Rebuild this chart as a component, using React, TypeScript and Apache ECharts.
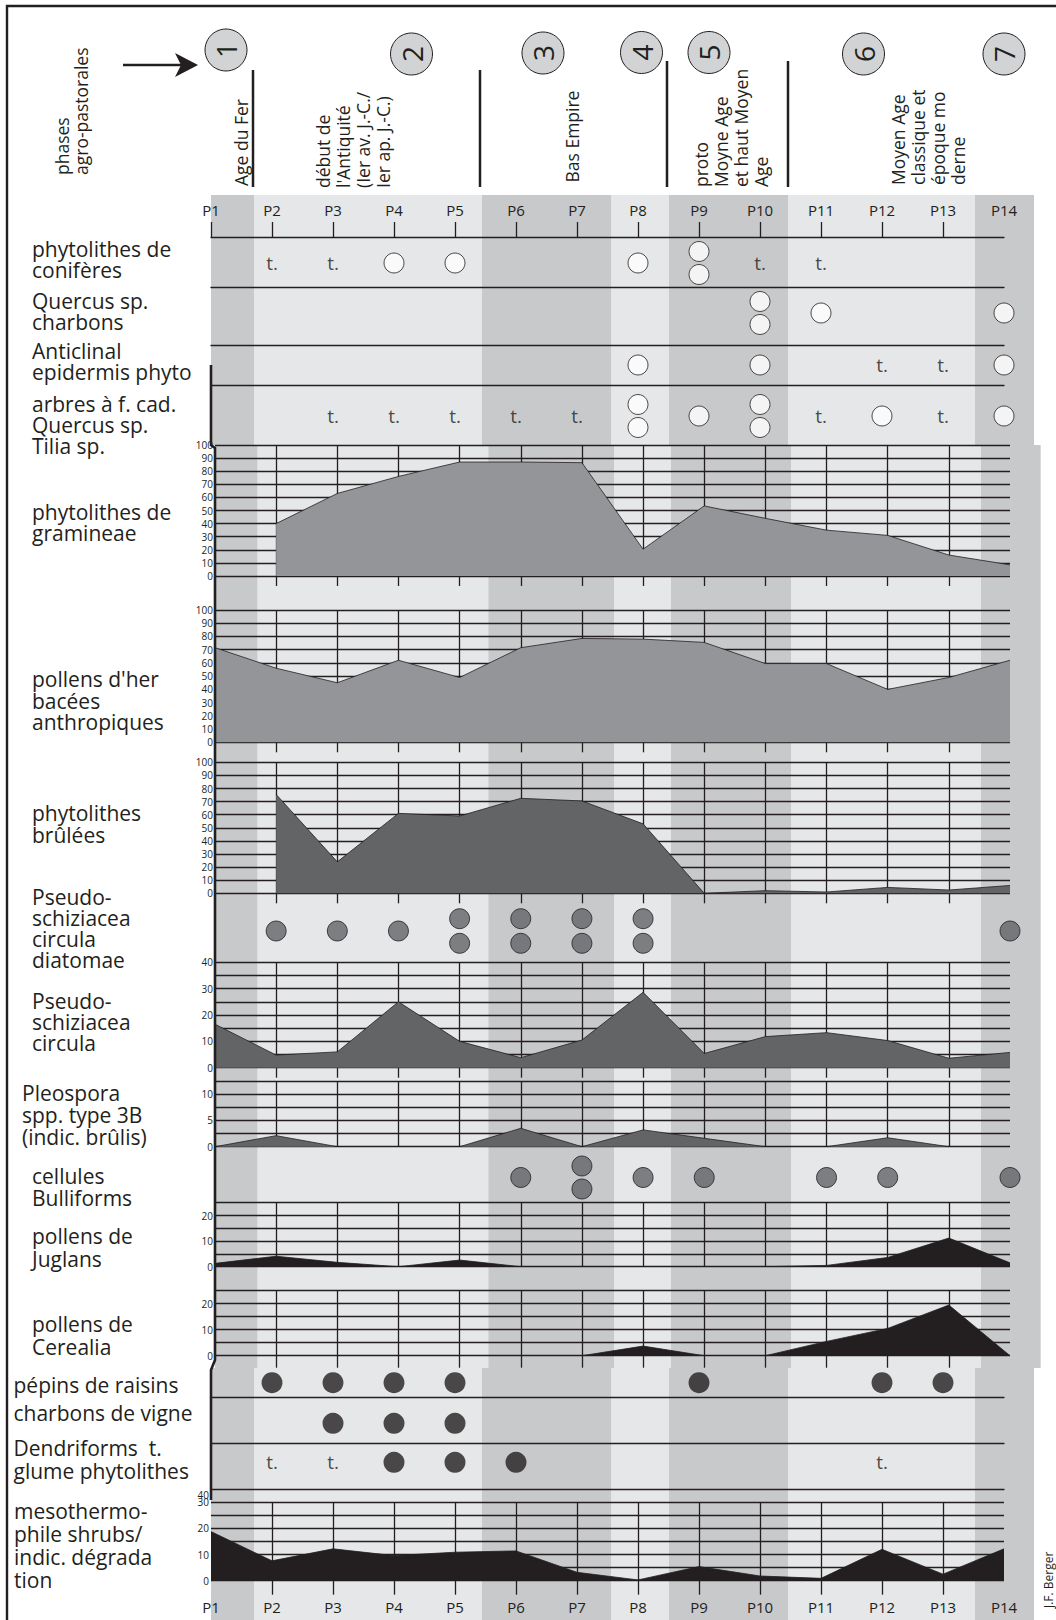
import React, { useEffect, useRef } from "react";
import * as echarts from "echarts";

const FONT = '"Open Sans", "Noto Sans", sans-serif';
const INK = "#231f20";
const BAND_DARK = "#c8c9cb";
const BAND_LIGHT = "#e6e7e8";
const AREA_GREY = "#939598";
const AREA_DARK = "#636466";
const AREA_BLACK = "#231f20";
const PHASE_FILL = "#d1d3d4";

const periods = ["P1", "P2", "P3", "P4", "P5", "P6", "P7", "P8", "P9", "P10", "P11", "P12", "P13", "P14"];

// presence rows: 0 = absent, 1 = one circle, 2 = two circles, "t" = traces
const coniferes = [0, "t", "t", 1, 1, 0, 0, 1, 2, "t", "t", 0, 0, 0];
const quercusCharbons = [0, 0, 0, 0, 0, 0, 0, 0, 0, 2, 1, 0, 0, 1];
const anticlinal = [0, 0, 0, 0, 0, 0, 0, 1, 0, 1, 0, "t", "t", 1];
const arbresCaducs = [0, 0, "t", "t", "t", "t", "t", 2, 1, 2, "t", 1, "t", 1];
const diatomae = [0, 1, 1, 1, 2, 2, 2, 2, 0, 0, 0, 0, 0, 1];
const bulliforms = [0, 0, 0, 0, 0, 1, 2, 1, 1, 0, 1, 1, 0, 1];
const pepinsRaisins = [0, 1, 1, 1, 1, 0, 0, 0, 1, 0, 0, 1, 1, 0];
const charbonsVigne = [0, 0, 1, 1, 1, 0, 0, 0, 0, 0, 0, 0, 0, 0];
const dendriforms = [0, "t", "t", 1, 1, 1, 0, 0, 0, 0, 0, "t", 0, 0];

// curves
const gramineae = [null, 40, 63, 76, 87, 87, 86.5, 20.5, 53.5, 44, 35, 31, 16, 8.5];
const pollensAnthropiques = [71.5, 56, 45, 62, 49, 71.5, 78.5, 78, 75.5, 59.5, 59.5, 40, 49, 62];
const phytolithesBrulees = [null, 75.5, 24, 61, 59, 72.5, 70.5, 53, 0, 2, 1, 4.5, 2.5, 6];
const pseudoschizaea = [16.5, 4.8, 6, 25, 10, 3.8, 10.5, 28.6, 5.4, 11.8, 13.3, 10.3, 3.6, 5.8];
const pleospora = [0, 2.1, 0, 0, 0, 3.5, 0, 3.2, 1.6, 0, 0, 1.7, 0, 0];
const juglans = [1.3, 4.1, 1.7, 0, 2.6, 0, 0, 0, 0, 0, 0.5, 3.6, 11.2, 1.5];
const cerealia = [null, null, null, null, null, null, 0, 3.7, 0, 0, 5.5, 10.5, 19.5, 0];
const mesothermophiles = [18.8, 7.6, 12.2, 9.6, 10.9, 11.4, 3.2, 0.3, 5.4, 1.8, 0.9, 12, 2.5, 12.2];

// phases
const phaseNumbers = ["1", "2", "3", "4", "5", "6", "7"];
const phaseNames = [
  "Age du Fer",
  "début de\nl'Antiquité\n(Ier av. J.-C./\nIer ap. J.-C.)",
  "Bas Empire",
  "proto\nMoyne Age\net haut Moyen\nAge",
  "Moyen Age\nclassique et\népoque mo\nderne",
];

const rowLabels = [
  "phytolithes de\nconifères",
  "Quercus sp.\ncharbons",
  "Anticlinal\nepidermis phyto",
  "arbres à f. cad.\nQuercus sp.\nTilia sp.",
  "phytolithes de\ngramineae",
  "pollens d'her\nbacées\nanthropiques",
  "phytolithes\nbrûlées",
  "Pseudo-\nschiziacea\ncircula\ndiatomae",
  "Pseudo-\nschiziacea\ncircula",
  "Pleospora\nspp. type 3B\n(indic. brûlis)",
  "cellules\nBulliforms",
  "pollens de\nJuglans",
  "pollens de\nCerealia",
  "pépins de raisins",
  "charbons de vigne",
  "Dendriforms  t.\nglume phytolithes",
  "mesothermo-\nphile shrubs/\nindic. dégrada\ntion",
];

// layout of the sections (the middle block of the figure is slightly shifted)
const OUTER = { left: 211, width: 793 };
const MIDDLE = { left: 215, width: 795 };

function buildOption() {
  const grid: any[] = [];
  const xAxis: any[] = [];
  const yAxis: any[] = [];
  const series: any[] = [];
  const graphic: any[] = [];
  const last = periods.length - 1;
  const inner = (i: number) => i > 0 && i < last;

  const addGrid = (sec: any, top: number, bottom: number) => {
    grid.push({ left: sec.left, width: sec.width, top, height: bottom - top });
    return grid.length - 1;
  };

  // header axis with period labels
  {
    const g = addGrid(OUTER, 237, 287);
    xAxis.push({
      type: "category", gridIndex: g, position: "top", data: periods, boundaryGap: false,
      axisLine: { show: true, onZero: false, lineStyle: { color: INK, width: 1.3 } },
      axisTick: { show: true, length: 15, interval: (i: number) => i < last, lineStyle: { color: INK, width: 1.3 } },
      axisLabel: { show: true, interval: 0, margin: 20, fontSize: 15, color: INK, fontFamily: FONT },
      splitLine: { show: false },
    });
    yAxis.push({ type: "value", gridIndex: g, min: 0, max: 1, show: false });
    series.push({ type: "scatter", xAxisIndex: xAxis.length - 1, yAxisIndex: yAxis.length - 1, data: [] });
  }

  const addDotRow = (sec: any, top: number, bottom: number, values: any[], kind: string, divider: boolean, off: number) => {
    const g = addGrid(sec, top, bottom);
    xAxis.push({
      type: "category", gridIndex: g, data: periods, boundaryGap: false,
      axisLine: { show: divider, onZero: false, lineStyle: { color: INK, width: 1.3 } },
      axisTick: { show: false }, axisLabel: { show: false }, splitLine: { show: false },
    });
    yAxis.push({ type: "value", gridIndex: g, min: 0, max: 1, show: false });
    const xi = xAxis.length - 1;
    const yi = yAxis.length - 1;
    const single: any[] = [];
    const pair: any[] = [];
    const trace: any[] = [];
    values.forEach((v, i) => {
      if (v === 1) single.push([i, 0.5]);
      else if (v === 2) pair.push([i, 0.5]);
      else if (v === "t") trace.push([i, 0.5]);
    });
    const itemStyle =
      kind === "white"
        ? { color: "#ffffff", borderColor: INK, borderWidth: 1 }
        : kind === "grey"
        ? { color: AREA_DARK, borderColor: INK, borderWidth: 1 }
        : { color: INK };
    const base = { type: "scatter", xAxisIndex: xi, yAxisIndex: yi, symbol: "circle", symbolSize: kind === "black" ? 21 : 20, itemStyle, silent: true, z: 3 };
    series.push({ ...base, data: single });
    series.push({ ...base, data: pair, symbolOffset: [0, -off] });
    series.push({ ...base, data: pair, symbolOffset: [0, off] });
    series.push({
      type: "scatter", xAxisIndex: xi, yAxisIndex: yi, symbol: "circle", symbolSize: 1, silent: true, z: 3,
      itemStyle: { color: "rgba(0,0,0,0)" }, data: trace,
      label: { show: true, position: "inside", formatter: "t.", fontSize: 19, color: INK, fontFamily: FONT },
    });
  };

  const addAreaChart = (
    sec: any, top: number, bottom: number, values: any[], max: number, step: number,
    labelEvery: number, fill: string, tickLen: number, showPeriods = false
  ) => {
    const g = addGrid(sec, top, bottom);
    xAxis.push({
      type: "category", gridIndex: g, data: periods, boundaryGap: false, position: "bottom",
      axisLine: { show: false },
      axisTick: { show: tickLen > 0, length: tickLen, interval: inner, lineStyle: { color: INK, width: 1.3 } },
      axisLabel: showPeriods
        ? { show: true, interval: 0, margin: 19, fontSize: 15, color: INK, fontFamily: FONT }
        : { show: false },
      splitLine: { show: true, interval: inner, lineStyle: { color: INK, width: 1.3 } },
    });
    yAxis.push({
      type: "value", gridIndex: g, min: 0, max, interval: step,
      axisLine: { show: false }, axisTick: { show: false },
      splitLine: { show: true, lineStyle: { color: INK, width: 1.3 } },
      axisLabel: {
        show: true, margin: 2, fontSize: 10, color: INK, fontFamily: FONT,
        formatter: (v: number) => (Math.abs(v / labelEvery - Math.round(v / labelEvery)) < 1e-6 ? String(v) : ""),
      },
    });
    series.push({
      type: "line", xAxisIndex: xAxis.length - 1, yAxisIndex: yAxis.length - 1, data: values,
      symbol: "none", silent: true, connectNulls: false,
      lineStyle: { color: INK, width: 0.8 }, areaStyle: { color: fill, opacity: 1 },
    });
  };

  // top presence rows
  addDotRow(OUTER, 239, 287, coniferes, "white", true, 11.5);
  addDotRow(OUTER, 281, 345, quercusCharbons, "white", true, 11.5);
  addDotRow(OUTER, 345, 385, anticlinal, "white", true, 11.5);
  addDotRow(OUTER, 387, 445, arbresCaducs, "white", false, 11.5);

  // middle block
  addAreaChart(MIDDLE, 445, 576, gramineae, 100, 10, 10, AREA_GREY, 10);
  addAreaChart(MIDDLE, 610, 742.3, pollensAnthropiques, 100, 10, 10, AREA_GREY, 10);
  addAreaChart(MIDDLE, 762.3, 893.3, phytolithesBrulees, 100, 10, 10, AREA_DARK, 10);
  addDotRow(MIDDLE, 900, 962, diatomae, "grey", false, 12.3);
  addAreaChart(MIDDLE, 962.3, 1067.7, pseudoschizaea, 40, 5, 10, AREA_DARK, 10);
  addAreaChart(MIDDLE, 1081, 1146.7, pleospora, 12.5, 2.5, 5, AREA_DARK, 0);
  addDotRow(MIDDLE, 1152, 1203, bulliforms, "grey", false, 11.5);
  addAreaChart(MIDDLE, 1202.7, 1266.7, juglans, 25, 5, 10, AREA_BLACK, 0);
  addAreaChart(MIDDLE, 1290.7, 1355.7, cerealia, 25, 5, 10, AREA_BLACK, 12);

  // bottom block
  addDotRow(OUTER, 1367.7, 1397.7, pepinsRaisins, "black", true, 11.5);
  addDotRow(OUTER, 1403.3, 1443.3, charbonsVigne, "black", true, 11.5);
  addDotRow(OUTER, 1435.6, 1489, dendriforms, "black", true, 11.5);
  addAreaChart(OUTER, 1502.3, 1580.7, mesothermophiles, 30, 5, 10, AREA_BLACK, 14, true);

  // ---------- graphic decorations ----------
  const rect = (x0: number, x1: number, y0: number, y1: number, fill: string) =>
    graphic.push({ type: "rect", z: -100, silent: true, shape: { x: x0, y: y0, width: x1 - x0, height: y1 - y0 }, style: { fill } });
  const outerBands: [number, number, string][] = [
    [211, 254, BAND_DARK], [254, 482, BAND_LIGHT], [482, 611.5, BAND_DARK], [611.5, 669, BAND_LIGHT],
    [669, 788, BAND_DARK], [788, 975, BAND_LIGHT], [975, 1034, BAND_DARK],
  ];
  const middleBands: [number, number, string][] = [
    [215, 257.7, BAND_DARK], [257.7, 488.3, BAND_LIGHT], [488.3, 614, BAND_DARK], [614, 671, BAND_LIGHT],
    [671, 791, BAND_DARK], [791, 981, BAND_LIGHT], [981, 1040.7, BAND_DARK],
  ];
  outerBands.forEach(([a, b, c]) => rect(a, b, 195, 445, c));
  middleBands.forEach(([a, b, c]) => rect(a, b, 445, 1368, c));
  outerBands.forEach(([a, b, c]) => rect(a, b, 1368, 1620, c));

  const text = (x: number, y: number, t: string, size: number, o: any = {}) =>
    graphic.push({
      type: "text", x, y, z: 60, silent: true, rotation: o.rot || 0,
      style: {
        text: t, fill: INK, font: `${size}px ${FONT}`,
        align: o.align || "left", verticalAlign: o.valign || "top",
        lineHeight: o.lh || size, legacy: false,
      },
    });
  const line = (x1: number, y1: number, x2: number, y2: number, w: number) =>
    graphic.push({ type: "line", z: 50, silent: true, shape: { x1, y1, x2, y2 }, style: { stroke: INK, lineWidth: w } });

  // frame
  graphic.push({ type: "rect", z: 80, silent: true, shape: { x: 7, y: 6, width: 1200, height: 1700 }, style: { fill: "none", stroke: INK, lineWidth: 2.4 } });

  // thick left axis
  graphic.push({
    type: "polyline", z: 55, silent: true,
    shape: { points: [[211, 365], [211, 445], [215, 448], [215, 1360], [211, 1370], [211, 1500]] },
    style: { stroke: INK, lineWidth: 2.6, fill: "none" },
  });

  // header: arrow
  line(123, 65, 182, 65, 2.4);
  graphic.push({ type: "polygon", z: 50, silent: true, shape: { points: [[198, 65], [175, 53], [181, 65], [175, 77]] }, style: { fill: INK } });
  text(52.5, 175, "phases\nagro-pastorales", 17.5, { rot: Math.PI / 2, lh: 19 });

  // header: phase circles
  const phaseCircles = [[226, 50], [411.5, 54], [543, 53], [641.5, 52.5], [709, 52.5], [863.5, 54], [1004, 54]];
  phaseCircles.forEach(([cx, cy], i) => {
    graphic.push({ type: "circle", z: 50, silent: true, shape: { cx, cy, r: 21 }, style: { fill: PHASE_FILL, stroke: INK, lineWidth: 1 } });
    text(cx, cy, phaseNumbers[i], 28, { rot: Math.PI / 2, align: "center", valign: "middle" });
  });

  // header: dividers
  line(253, 70, 253, 187, 2.5);
  line(480, 70, 480, 187, 2.5);
  line(667, 61, 667, 187, 2.5);
  line(788, 61, 788, 187, 2.5);

  // header: phase names (rotated)
  const namePos = [[230.5, 186], [313, 188], [562, 182.5], [691, 187], [887.5, 185]];
  namePos.forEach(([x, y], i) => text(x, y, phaseNames[i], 17.5, { rot: Math.PI / 2, lh: 20 }));

  // left row labels
  const labelPos: [number, number, number][] = [
    [32, 238, 21], [32, 290, 21], [32, 340, 21], [32, 393, 21],
    [32, 501, 21.5], [32, 668.5, 21.5], [32, 802.5, 21.5], [32, 886, 21], [32, 990, 21],
    [22, 1081.5, 22], [32, 1164.5, 22.5], [32, 1224, 23], [32, 1313, 22.5],
    [13.5, 1373.5, 22], [13.5, 1401.5, 22], [13.5, 1436, 23], [14, 1499, 23],
  ];
  labelPos.forEach(([x, y, lh], i) => text(x, y, rowLabels[i], 21, { lh }));

  // stray "40" label above "30" of the last diagram
  text(209, 1495, "40", 10, { align: "right", valign: "middle" });

  // author
  text(1042, 1608, "J.F. Berger", 12, { rot: Math.PI / 2 });

  return {
    animation: false,
    backgroundColor: "#ffffff",
    textStyle: { fontFamily: FONT },
    grid, xAxis, yAxis, series, graphic,
  };
}

export default function App() {
  const ref = useRef<HTMLDivElement>(null);
  useEffect(() => {
    if (!ref.current) return;
    const chart = echarts.init(ref.current, undefined, { renderer: "svg" });
    chart.setOption(buildOption() as any);
    return () => chart.dispose();
  }, []);
  return <div ref={ref} style={{ position: "absolute", left: 0, top: 0, width: 1056, height: 1620 }} />;
}
